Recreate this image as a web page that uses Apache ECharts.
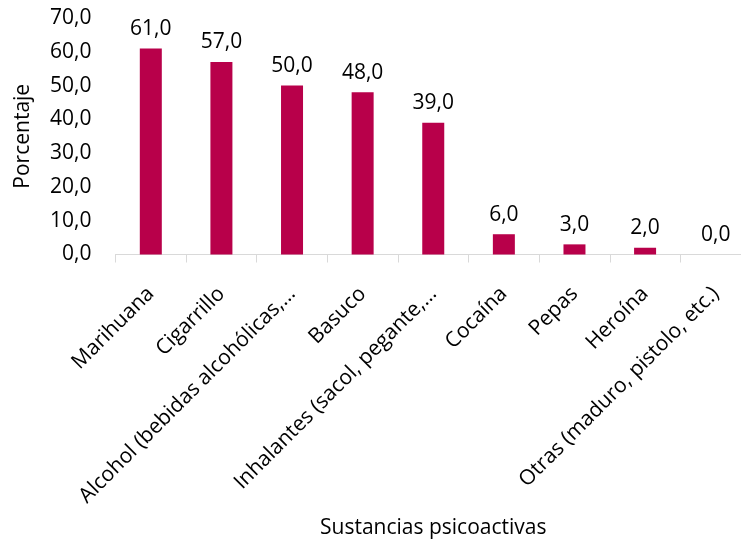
<!DOCTYPE html>
<html><head><meta charset="utf-8">
<script src="https://cdn.jsdelivr.net/npm/echarts@6/dist/echarts.min.js"></script>
<style>html,body{margin:0;padding:0;background:#fff}#c{width:741px;height:549px}</style>
</head><body><div id="c"></div>
<script>
const categories = ["Marihuana","Cigarrillo","Alcohol (bebidas alcohólicas,…","Basuco","Inhalantes (sacol, pegante,…","Cocaína","Pepas","Heroína","Otras (maduro, pistolo, etc.)"];
const values = [61,57,50,48,39,6,3,2,0];
const yTicks = {min:0, max:70, interval:10};
const font = "'Open Sans', 'Noto Sans', sans-serif";
const chart = echarts.init(document.getElementById('c'));
chart.setOption({
  animation:false,
  grid:{left:115.5, right:-10, top:18, bottom:294.5, containLabel:false, outerBoundsMode:'none'},
  xAxis:{type:'category', data:categories,
    name:'Sustancias psicoactivas', nameLocation:'middle', nameGap:263,
    nameTextStyle:{fontFamily:font, fontSize:21, color:'#000'},
    axisLine:{lineStyle:{color:'#d9d9d9', width:1}},
    axisTick:{show:true, length:8, lineStyle:{color:'#d9d9d9'}},
    axisLabel:{rotate:45, interval:0, fontFamily:font, fontSize:21, color:'#000', margin:36}},
  yAxis:{type:'value', min:yTicks.min, max:yTicks.max, interval:yTicks.interval,
    name:'Porcentaje', nameLocation:'middle', nameGap:82, nameRotate:90,
    nameTextStyle:{fontFamily:font, fontSize:21, color:'#000'},
    axisLine:{show:false}, axisTick:{show:false}, splitLine:{show:false},
    axisLabel:{fontFamily:font, fontSize:21, color:'#000', margin:24,
      formatter:v=>v.toFixed(1).replace('.',',')}},
  series:[{type:'bar', data:values, barWidth:22, itemStyle:{color:'#B8004A'},
    label:{show:true, position:'top', distance:9, fontFamily:font, fontSize:21, color:'#000',
      formatter:p=>p.value.toFixed(1).replace('.',',')}}]
});
</script></body></html>
